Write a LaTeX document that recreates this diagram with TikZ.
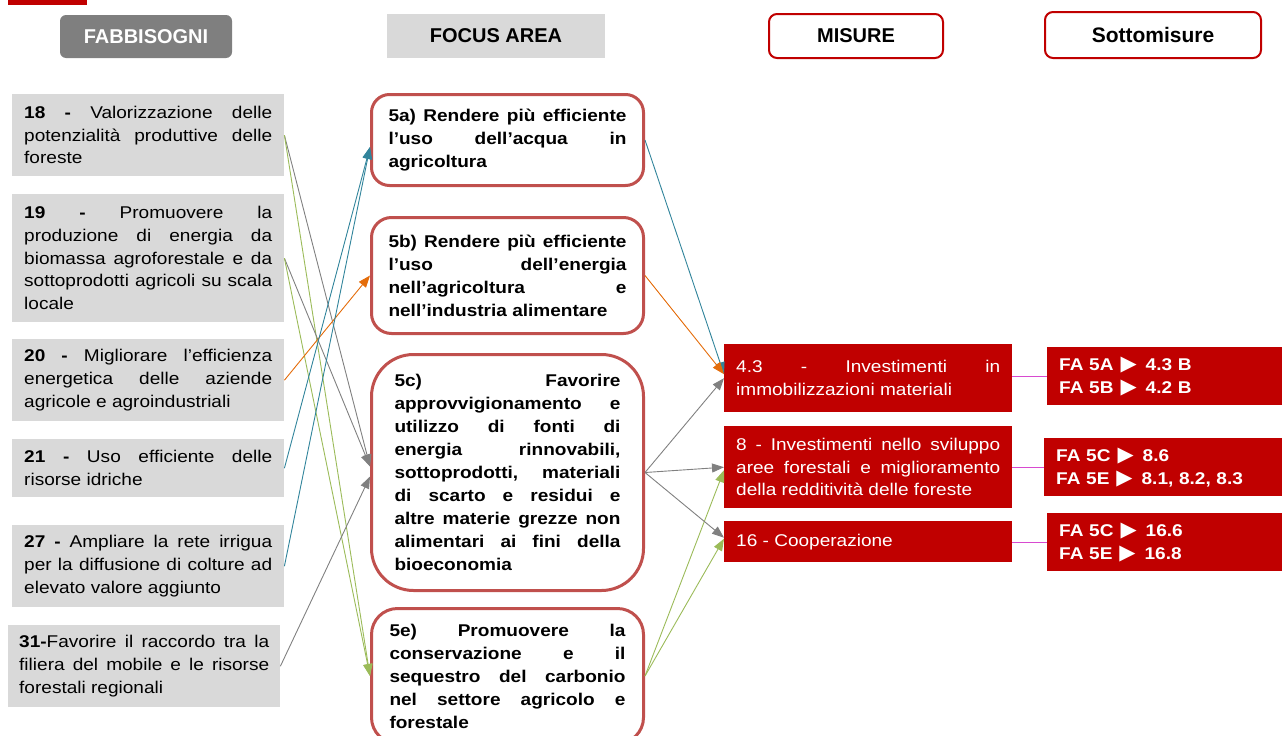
\documentclass[tikz,border=0pt]{standalone}
\usepackage{fontspec}
\setmainfont{Liberation Sans}[FakeStretch=1.12]
\newfontfamily\headfont{Liberation Sans}
\newfontfamily\symfont{DejaVu Sans}
\usetikzlibrary{arrows.meta,calc}

\definecolor{lgray}{HTML}{D9D9D9}
\definecolor{hgray}{HTML}{7F7F7F}
\definecolor{dred}{HTML}{C00000}
\definecolor{fred}{HTML}{C0504D}
\definecolor{cblue}{HTML}{31849B}
\definecolor{corange}{HTML}{E46C0A}
\definecolor{cgray}{HTML}{808080}
\definecolor{cgreen}{HTML}{9BBB59}
\definecolor{cmag}{HTML}{D84AD0}

\hyphenpenalty=10000
\exhyphenpenalty=10000
\tolerance=10000
\hbadness=10000

% right-pointing triangle used in the sub-measure lists
\newcommand\tri{{\symfont\fontsize{21}{23}\selectfont ▶}}

\begin{document}
\begin{tikzpicture}[x=1pt,y=-1pt,
  needbox/.style={fill=lgray, anchor=north west, inner xsep=12pt, inner ysep=0pt,
    text width=248pt, align=justify, font=\fontsize{17}{22.7}\selectfont},
  focusbox/.style={draw=fred, line width=3pt, fill=white, anchor=north west,
    inner ysep=0pt, align=justify, minimum width=272pt,
    font=\bfseries\fontsize{17}{23}\selectfont},
  misbox/.style={fill=dred, text=white, anchor=north west, inner xsep=12pt,
    inner ysep=0pt, text width=264pt, align=justify,
    font=\fontsize{17}{22.7}\selectfont},
  subbox/.style={fill=dred, text=white, anchor=north west, inner xsep=12pt,
    inner ysep=0pt, align=left, minimum height=58pt,
    font=\bfseries\fontsize{17}{23}\selectfont},
  headbox/.style={minimum height=44pt, inner sep=0pt,
    font=\headfont\bfseries\fontsize{20}{24}\selectfont},
  conn/.style={line width=0.9pt, -{Triangle[length=12pt,width=9pt]}},
  magline/.style={line width=1.3pt, cmag}
]
\useasboundingbox (0,0) rectangle (1282,736);

% corner tab
\fill[dred] (8,0) rectangle (87,5);

% column headers
\node[headbox, fill=hgray, text=white, rounded corners=6pt, minimum width=172pt,
  minimum height=43pt] (hfab) at (146,36.5) {FABBISOGNI};
\node[headbox, fill=lgray, minimum width=218pt] (hfoc) at (496,36) {FOCUS AREA};
\node[headbox, draw=dred, line width=2pt, fill=white, rounded corners=8pt,
  minimum width=174pt] (hmis) at (856,36) {MISURE};
\node[headbox, draw=dred, line width=2pt, fill=white, rounded corners=8pt,
  minimum width=216pt, minimum height=46pt,
  font=\headfont\bfseries\fontsize{21}{24}\selectfont] (hsot) at (1153,35) {Sottomisure};

% needs
\node[needbox, minimum height=82pt] (n18) at (12,94)
  {\textbf{18 -} Valorizzazione delle\linebreak potenzialità produttive delle\linebreak foreste};
\node[needbox, minimum height=128pt] (n19) at (12,194)
  {\textbf{19 -} Promuovere la\linebreak produzione di energia da\linebreak biomassa agroforestale e da\linebreak sottoprodotti agricoli su scala\linebreak locale};
\node[needbox, minimum height=82pt] (n20) at (12,339)
  {\textbf{20 -} Migliorare l’efficienza\linebreak energetica delle aziende\linebreak agricole e agroindustriali};
\node[needbox, minimum height=58pt] (n21) at (12,439)
  {\textbf{21 -} Uso efficiente delle\linebreak risorse idriche};
\node[needbox, minimum height=82pt] (n27) at (12,525)
  {\textbf{27 -} Ampliare la rete irrigua\linebreak per la diffusione di colture ad\linebreak elevato valore aggiunto};
\node[needbox, minimum height=82pt, inner xsep=11pt, text width=250pt] (n31) at (8,625)
  {\textbf{31-}Favorire il raccordo tra la\linebreak filiera del mobile e le risorse\linebreak forestali regionali};

% focus areas
\node[focusbox, rounded corners=18pt, minimum height=91pt, inner xsep=17pt,
  text width=238pt] (f5a) at (370,93)
  {5a) Rendere più efficiente\linebreak l’uso dell’acqua in\linebreak agricoltura};
\node[focusbox, rounded corners=20pt, minimum height=116pt, inner xsep=17pt,
  text width=238pt] (f5b) at (370,216)
  {5b) Rendere più efficiente\linebreak l’uso dell’energia\linebreak nell’agricoltura e\linebreak nell’industria alimentare};
\node[focusbox, rounded corners=42pt, minimum height=236pt, inner xsep=23pt,
  text width=226pt] (f5c) at (370,353)
  {5c) Favorire\linebreak approvvigionamento e\linebreak utilizzo di fonti di\linebreak energia rinnovabili,\linebreak sottoprodotti, materiali\linebreak di scarto e residui e\linebreak altre materie grezze non\linebreak alimentari ai fini della\linebreak bioeconomia};
\node[focusbox, rounded corners=26pt, minimum height=135pt, inner xsep=18pt,
  text width=236pt] (f5e) at (370,607)
  {5e) Promuovere la\linebreak conservazione e il\linebreak sequestro del carbonio\linebreak nel settore agricolo e\linebreak forestale};

% measures
\node[misbox, minimum height=68pt] (m43) at (724,344)
  {4.3 - Investimenti in\linebreak immobilizzazioni materiali};
\node[misbox, minimum height=82pt] (m8) at (724,426)
  {8 - Investimenti nello sviluppo\linebreak aree forestali e miglioramento\linebreak della redditività delle foreste};
\node[misbox, minimum height=41pt] (m16) at (724,521)
  {16 - Cooperazione};

% sub-measures
\node[subbox, text width=211pt] (s1) at (1047,347)
  {FA 5A\hspace{7pt}\tri\hspace{9pt}4.3 B\\FA 5B\hspace{7pt}\tri\hspace{9pt}4.2 B};
\node[subbox, text width=214pt] (s2) at (1044,438)
  {FA 5C\hspace{7pt}\tri\hspace{9pt}8.6\\FA 5E\hspace{7pt}\tri\hspace{9pt}8.1, 8.2, 8.3};
\node[subbox, text width=211pt] (s3) at (1047,513)
  {FA 5C\hspace{7pt}\tri\hspace{9pt}16.6\\FA 5E\hspace{7pt}\tri\hspace{9pt}16.8};

% needs -> focus areas
\draw[conn, cgray]   (n18.east) -- ($(f5c.west)+(0,-6)$);
\draw[conn, cgreen]  (n18.east) -- (f5e.west);
\draw[conn, cgray]   (n19.east) -- ($(f5c.west)+(0,-6)$);
\draw[conn, cgreen]  (n19.east) -- (f5e.west);
\draw[conn, corange] (n20.east) -- (f5b.west);
\draw[conn, cblue]   (n21.east) -- ($(f5a.west)+(0,7)$);
\draw[conn, cblue]   (n27.east) -- ($(f5a.west)+(0,7)$);
\draw[conn, cgray]   (n31.east) -- ($(f5c.west)+(0,4)$);

% focus areas -> measures
\draw[conn, cblue]   (f5a.east) -- ($(m43.west)+(0,-4)$);
\draw[conn, corange] (f5b.east) -- ($(m43.west)+(0,-4)$);
\draw[conn, cgray]   (f5c.east) -- (m43.west);
\draw[conn, cgray]   (f5c.east) -- (m8.west);
\draw[conn, cgreen]  (f5e.east) -- ($(m8.west)+(0,3)$);
\draw[conn, cgray]   (f5c.east) -- ($(m16.west)+(0,-4)$);
\draw[conn, cgreen]  (f5e.east) -- ($(m16.west)+(0,-3)$);

% measures -> sub-measures
\draw[magline] (m43.east |- s1.west) -- (s1.west);
\draw[magline] ($(m8.east |- s2.west)+(0,0.5)$) -- ($(s2.west)+(0,0.5)$);
\draw[magline] (m16.east |- s3.west) -- (s3.west);
\end{tikzpicture}
\end{document}
